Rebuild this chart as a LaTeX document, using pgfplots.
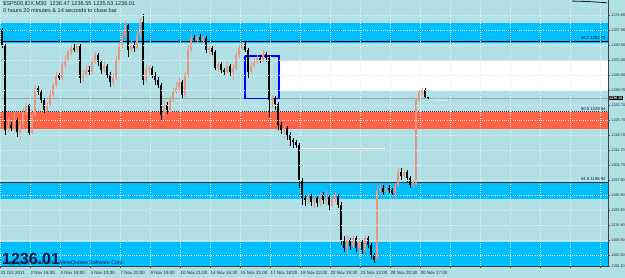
\documentclass[border=0pt]{standalone}
\usepackage{pgfplots}
\pgfplotsset{compat=1.18}
\usepackage{pgfplotstable}
\usepackage{fontspec}
\setmainfont{Liberation Sans}
\definecolor{bgc}{RGB}{176,224,230}
\definecolor{skyb}{RGB}{0,191,255}
\definecolor{tomatoc}{RGB}{255,99,71}
\definecolor{upc}{RGB}{232,150,128}
\definecolor{gridc}{RGB}{232,238,240}
\definecolor{navyt}{RGB}{15,25,60}
\definecolor{bidc}{RGB}{150,160,165}

\pgfplotstableread{
x o h l c
8 1221.2 1226.8 1220.3 1223.6
14 1222.2 1229.6 1221.2 1225.9
20 1220.3 1225.9 1216.6 1223.6
23 1223.6 1231.5 1222.2 1229.6
26 1229.6 1233.8 1228.2 1232.9
32 1219.8 1229.2 1219.4 1228.2
35 1228.2 1242.2 1227.3 1240.8
47 1230.6 1234.3 1229.6 1232.9
50 1232.9 1239.9 1232.0 1237.6
53 1237.6 1243.2 1236.6 1242.2
56 1242.2 1248.3 1241.3 1246.9
62 1245.5 1253.0 1244.6 1251.6
65 1251.6 1256.2 1250.2 1253.9
68 1253.9 1258.6 1253.0 1257.6
71 1257.6 1260.9 1256.2 1259.5
77 1258.6 1261.8 1257.2 1260.9
83 1245.5 1249.2 1243.6 1246.9
86 1246.9 1251.6 1246.0 1249.2
92 1248.3 1254.8 1247.4 1253.0
95 1253.0 1257.6 1252.0 1256.2
104 1249.2 1253.0 1248.3 1251.1
113 1243.6 1247.4 1242.2 1245.5
116 1245.5 1255.8 1244.6 1253.9
119 1253.9 1262.3 1253.0 1260.9
122 1260.9 1267.9 1259.5 1265.6
125 1265.6 1271.6 1264.2 1270.2
131 1258.6 1263.2 1257.6 1260.9
137 1259.5 1267.9 1258.6 1265.6
140 1265.6 1273.5 1264.2 1271.6
146 1244.6 1251.6 1243.6 1249.2
149 1249.2 1251.1 1246.9 1250.2
164 1228.2 1235.2 1227.3 1232.9
170 1230.6 1237.1 1229.6 1235.2
173 1235.2 1240.8 1234.3 1239.0
176 1239.0 1243.6 1238.0 1240.8
179 1240.8 1245.5 1239.9 1243.6
185 1237.6 1248.3 1236.6 1246.9
188 1246.9 1260.9 1246.0 1258.6
191 1258.6 1266.0 1257.6 1264.2
197 1263.2 1265.6 1261.8 1264.6
203 1263.2 1265.6 1262.3 1264.2
209 1258.6 1260.4 1256.7 1259.5
218 1250.2 1253.0 1248.3 1252.0
227 1248.3 1253.0 1247.4 1251.1
233 1248.3 1252.0 1244.6 1250.2
236 1250.2 1257.6 1249.2 1256.2
239 1256.2 1260.9 1254.8 1259.5
242 1259.5 1262.3 1258.6 1261.4
251 1248.3 1253.0 1247.4 1251.1
254 1251.1 1254.8 1250.2 1253.0
257 1253.0 1256.2 1252.0 1254.8
263 1253.9 1258.6 1253.0 1256.7
272 1235.2 1237.6 1231.5 1236.2
284 1221.2 1223.6 1217.5 1222.2
308 1188.6 1191.8 1186.7 1190.4
314 1187.6 1190.4 1184.8 1189.5
320 1187.2 1192.3 1185.8 1190.9
326 1188.6 1193.2 1186.2 1190.0
332 1186.2 1191.4 1185.3 1189.5
335 1189.5 1192.3 1187.6 1190.4
347 1166.2 1171.8 1163.8 1169.9
353 1167.1 1171.8 1166.2 1170.8
359 1166.2 1170.8 1161.5 1169.0
365 1165.2 1171.8 1164.3 1170.8
377 1161.5 1195.6 1160.6 1193.2
380 1193.2 1196.0 1191.8 1194.2
386 1192.3 1195.6 1191.4 1194.2
395 1191.8 1196.5 1189.5 1195.1
398 1195.1 1203.5 1194.2 1201.6
404 1199.8 1202.6 1198.8 1201.6
413 1195.6 1197.9 1194.2 1196.9
416 1196.0 1236.2 1195.1 1235.2
419 1235.2 1239.9 1234.3 1239.0
422 1238.5 1240.8 1237.6 1239.9
}\upcandles

\pgfplotstableread{
x o h l c
2 1267.9 1268.8 1259.5 1260.9
5 1260.9 1261.4 1218.9 1221.2
11 1223.6 1225.0 1220.8 1222.2
17 1225.9 1226.8 1218.0 1220.3
29 1232.9 1233.4 1218.9 1219.8
38 1240.8 1241.8 1237.6 1239.0
41 1239.0 1239.9 1233.8 1235.2
44 1235.2 1236.2 1229.2 1230.6
59 1246.9 1247.8 1244.6 1245.5
74 1259.5 1261.4 1257.6 1258.6
80 1260.9 1261.4 1243.2 1245.5
89 1249.2 1251.1 1246.9 1248.3
98 1256.2 1257.2 1251.1 1253.0
101 1253.0 1253.9 1247.4 1249.2
107 1251.1 1252.0 1245.5 1246.9
110 1246.9 1248.3 1241.3 1243.6
128 1270.2 1270.7 1255.3 1258.6
134 1260.9 1262.3 1257.6 1259.5
143 1271.6 1275.4 1242.2 1244.6
152 1250.2 1251.1 1245.5 1246.9
155 1246.9 1248.3 1242.2 1244.6
158 1244.6 1246.0 1240.8 1242.2
161 1242.2 1243.2 1225.9 1228.2
167 1232.9 1234.3 1228.7 1230.6
182 1243.6 1244.6 1236.2 1237.6
194 1264.2 1265.6 1262.3 1263.2
200 1264.6 1266.0 1262.3 1263.2
206 1264.2 1265.1 1257.2 1258.6
212 1259.5 1260.4 1256.2 1257.6
215 1257.6 1258.6 1249.2 1250.2
221 1252.0 1253.0 1247.8 1249.2
224 1249.2 1250.2 1246.9 1248.3
230 1251.1 1252.0 1246.4 1248.3
245 1261.4 1262.3 1257.6 1258.6
248 1258.6 1259.5 1245.5 1248.3
260 1254.8 1256.2 1252.5 1253.9
266 1256.7 1257.6 1253.0 1254.8
269 1254.8 1255.8 1227.3 1235.2
275 1236.2 1237.1 1230.6 1233.4
278 1233.4 1234.3 1221.2 1223.6
281 1223.6 1225.0 1219.4 1221.2
287 1222.2 1223.1 1216.6 1218.9
290 1218.9 1220.3 1213.8 1216.6
293 1216.6 1217.5 1212.8 1215.6
296 1215.6 1216.6 1212.8 1214.2
299 1214.2 1215.2 1194.2 1197.9
302 1197.9 1198.8 1186.2 1189.5
305 1189.5 1190.9 1185.8 1188.6
311 1190.4 1191.4 1185.8 1187.6
317 1189.5 1190.9 1185.3 1187.2
323 1190.9 1192.3 1186.7 1188.6
329 1190.0 1190.9 1183.9 1186.2
338 1190.4 1191.4 1184.8 1186.2
341 1186.2 1187.6 1167.6 1169.9
344 1169.9 1171.8 1164.3 1166.2
350 1169.9 1170.8 1165.2 1167.1
356 1170.8 1171.8 1164.3 1166.2
362 1169.0 1169.9 1163.4 1165.2
368 1170.8 1171.8 1166.2 1167.6
371 1167.6 1168.5 1161.0 1162.9
374 1162.9 1163.8 1159.2 1160.6
383 1194.2 1195.6 1190.9 1192.3
389 1194.2 1195.6 1191.8 1193.2
392 1193.2 1194.2 1190.4 1191.8
401 1201.6 1203.5 1197.9 1199.8
407 1201.6 1202.6 1197.0 1198.8
410 1198.8 1199.8 1194.2 1195.6
425 1239.9 1240.8 1236.2 1236.5
428 1236.47 1236.55 1235.53 1236.01
}\downcandles

\begin{document}
\begin{tikzpicture}
\path[fill=bgc, use as bounding box] (0,0) rectangle (625pt,278pt);
\begin{axis}[
  at={(0pt,12pt)}, anchor=south west,
  scale only axis, width=608pt, height=266pt,
  xmin=0, xmax=608, ymin=1157.77, ymax=1281.9,
  axis x line*=bottom, axis y line*=right,
  axis line style={draw=black!75, line width=0.5pt},
  axis on top, clip=false,
  xtick={0,30,...,600},
  xticklabels={31 Oct 2011, 2 Nov 16:30, 3 Nov 18:00, 4 Nov 19:30, 7 Nov 22:00, 9 Nov 19:00, 10 Nov 21:00, 14 Nov 16:30, 15 Nov 21:00, 17 Nov 18:00, 18 Nov 22:00, 22 Nov 19:30, 23 Nov 22:00, 28 Nov 20:30, 30 Nov 17:00,,,,,,},
  ytick={1274.9,1267.9,1260.9,1253.9,1246.9,1239.9,1232.9,1225.9,1218.9,1211.9,1204.9,1197.9,1190.9,1183.9,1176.9,1169.9,1162.9,1157.77},
  yticklabels={1274.90,1267.90,1260.90,1253.90,1246.90,1239.70,1232.70,1225.70,1218.70,1211.70,1204.70,1197.90,1190.90,1183.90,1176.90,1169.90,1162.90,1156.10},
  ticklabel style={font=\fontsize{4.5}{5}\selectfont, text=black!85},
  xticklabel style={anchor=north west, inner sep=0pt, xshift=0.5pt, yshift=-3pt},
  yticklabel style={anchor=west, inner sep=0pt, xshift=1.2pt, font=\fontsize{3.8}{4.5}\selectfont},
  tick align=outside, major tick length=2pt,
  tick style={draw=black!70, line width=0.4pt},
  grid=major,
  major grid style={draw=gridc, dash pattern=on 1pt off 1.2pt, line width=0.6pt},
]
% bands
\addplot[draw=none, fill=skyb] coordinates {(0,1271.2) (608,1271.2) (608,1261.8) (0,1261.8)};
\addplot[draw=none, fill=white] coordinates {(279,1253.4) (608,1253.4) (608,1239.5) (279,1239.5)};
\addplot[draw=none, fill=tomatoc] coordinates {(0,1229.84) (608,1229.84) (608,1221.7) (0,1221.7)};
\addplot[draw=none, fill=skyb] coordinates {(0,1196.92) (608,1196.92) (608,1189.0) (0,1189.0)};
\addplot[draw=none, fill=skyb] coordinates {(0,1169.0) (608,1169.0) (608,1157.77) (0,1157.77)};
% lines
\addplot[black, line width=0.8pt] coordinates {(0,1262.73) (608,1262.73)};
\addplot[black!80, line width=0.6pt, dash pattern=on 1pt off 1pt] coordinates {(0,1229.84) (608,1229.84)};
\addplot[black!80, line width=0.7pt] coordinates {(0,1196.92) (608,1196.92)};
\addplot[bidc, line width=0.5pt] coordinates {(0,1236.01) (608,1236.01)};
\addplot[white, line width=1pt] coordinates {(295,1212.8) (385,1212.8)};
\addplot[blue, line width=1.2pt] coordinates {(245,1255.8) (279,1255.8) (279,1236.1) (245,1236.1) (245,1255.8)};
\addplot[navyt, line width=0.8pt] coordinates {(572,1281.4) (588,1281.2) (607,1280.6)};
% candles
\addplot[upc, line width=0.6pt, mark=none, quiver={u=0, v=\thisrow{h}-\thisrow{l}}] table[x=x, y=l] {\upcandles};
\addplot[upc, line width=1.6pt, mark=none, quiver={u=0, v=\thisrow{c}-\thisrow{o}}] table[x=x, y=o] {\upcandles};
\addplot[black, line width=0.6pt, mark=none, quiver={u=0, v=\thisrow{h}-\thisrow{l}}] table[x=x, y=l] {\downcandles};
\addplot[black, line width=1.6pt, mark=none, quiver={u=0, v=\thisrow{c}-\thisrow{o}}] table[x=x, y=o] {\downcandles};
% labels
\node[anchor=south east, inner sep=0.3pt, font=\fontsize{4.2}{5}\selectfont, text=navyt] at (axis cs:606,1263.1) {38.2 1262.73};
\node[anchor=south east, inner sep=0.3pt, font=\fontsize{4.2}{5}\selectfont, text=navyt] at (axis cs:606,1230.2) {50.0 1229.84};
\node[anchor=south east, inner sep=0.3pt, font=\fontsize{4.2}{5}\selectfont, text=navyt] at (axis cs:606,1197.3) {61.8 1196.92};
\node[anchor=west, fill=black, text=white, inner sep=0.6pt, font=\fontsize{3.8}{4.5}\selectfont\bfseries] at (axis cs:608.3,1236.01) {1236.01};
\node[anchor=west, text=white, inner sep=0pt, font=\fontsize{4.2}{5}\selectfont] at (axis cs:431,1235.0) {<0:20:14};
\end{axis}
\node[anchor=north west, align=left, inner sep=0pt, font=\fontsize{5.6}{6.5}\selectfont, text=black!85] at (3pt,276.8pt) {\$SP500,IDX,M30\ \ 1236.47 1236.55 1235.53 1236.01\\0 hours 20 minutes \& 14 seconds to close bar};
\node[anchor=base west, inner sep=0pt, font=\fontsize{5.2}{6}\selectfont, text=navyt] at (3pt,13.5pt) {Copyright © 2001-2011, MetaQuotes Software Corp.};
\node[anchor=base west, inner sep=0pt, font=\fontsize{16}{16}\selectfont\bfseries, text=navyt] at (2pt,13pt) {1236.01};
\end{tikzpicture}
\end{document}
